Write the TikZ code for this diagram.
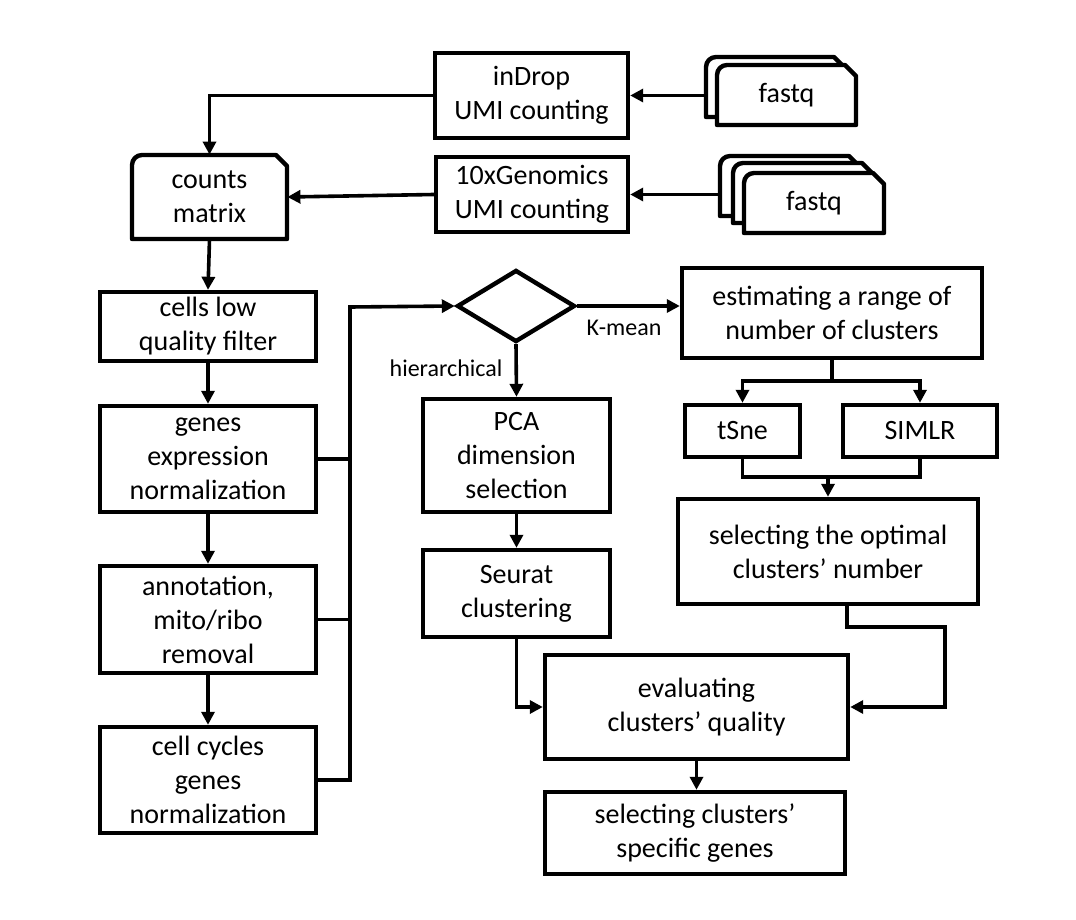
\documentclass[tikz,border=0pt]{standalone}
\usepackage{fontspec}
\setmainfont{Carlito}
\usetikzlibrary{arrows.meta,shapes.geometric,calc}

\newcommand{\boxfont}{\fontsize{14}{17}\selectfont}
\newcommand{\labfont}{\fontsize{12}{14}\selectfont}
% page outline: centre, half width, half height (px)
\newcommand{\docpage}[3]{%
  \filldraw[pageline] ($(#1)+(-#2,#3)$) -- ($(#1)+(-#2,-#3+10)$)
    arc[start angle=180,end angle=270,radius=10]
    -- ($(#1)+(#2-11,-#3)$) -- ($(#1)+(#2,-#3+11)$) -- ($(#1)+(#2,#3)$) -- cycle;}

\begin{document}
\begin{tikzpicture}[x=0.5pt,y=-0.5pt,
  every node/.style={font=\boxfont},
  procbox/.style={draw, line width=2.2pt, align=center, inner sep=0pt},
  conn/.style={line width=1.8pt},
  arr/.style={conn, -{Triangle[length=6.5pt,width=6.5pt]}},
  pageline/.style={draw, line width=2.2pt, fill=white, line join=round}]
\useasboundingbox (0,0) rectangle (1076,920);

% Input files (stacked pages)
\coordinate (fqApos) at (786.5,95);
\coordinate (fqBpos) at (814,203);
\docpage{$(fqApos)+(-11,-8)$}{69.5}{30}
\docpage{fqApos}{69.5}{30}
\docpage{$(fqBpos)+(-24,-17)$}{70}{30}
\docpage{$(fqBpos)+(-11,-10)$}{70}{30}
\docpage{fqBpos}{70}{30}
\node[minimum width=69.5pt, minimum height=30pt, inner sep=0] (fqAback) at ($(fqApos)+(-11,-8)$) {};
\node[minimum width=69.5pt, minimum height=30pt, inner sep=0] (fqA) at (fqApos) {fastq};
\node[minimum width=70pt, minimum height=30pt, inner sep=0] (fqBback) at ($(fqBpos)+(-24,-17)$) {};
\node[minimum width=70pt, minimum height=30pt, inner sep=0] (fqB) at (fqBpos) {fastq};

% UMI counting
\node[procbox, minimum width=96.5pt, minimum height=42.5pt] (indrop) at (531.5,95.5) {inDrop\\UMI counting};
\node[procbox, minimum width=96pt, minimum height=37.5pt] (tenx) at (532,194.5) {10xGenomics\\UMI counting};

% Counts matrix
\coordinate (cntpos) at (209.5,197);
\docpage{cntpos}{77.5}{42}
\node[minimum width=77.5pt, minimum height=42pt, inner sep=0, align=center] (counts) at (cntpos) {counts\\matrix};

% Preprocessing column
\foreach \name/\y/\h/\txt in {
  cells/326.5/34.5/{cells low\\quality filter},
  genes/459/53/{genes\\expression\\normalization},
  annot/619.5/53.5/{annotation,\\mito/ribo\\removal},
  cycles/780/53/{cell cycles\\genes\\normalization}%
} {
  \node[procbox, minimum width=108pt, minimum height=\h pt] (\name) at (208,\y) {\txt};
}

% Clustering choice
\node[draw, diamond, line width=2.2pt, minimum width=59pt, minimum height=36pt, inner sep=0] (choice) at (516,306) {};
\node[font=\labfont] (kmlab) at (624,328) {K-mean};
\node[font=\labfont] (hilab) at (446,368) {hierarchical};

% Hierarchical branch
\node[procbox, minimum width=93.5pt, minimum height=56.5pt] (pca) at (516.5,455.5) {PCA\\dimension\\selection};
\node[procbox, minimum width=93.5pt, minimum height=43.5pt] (seurat) at (516.5,593.5) {Seurat\\clustering};

% K-mean branch
\node[procbox, minimum width=150pt, minimum height=45pt] (estim) at (832,313) {estimating a range of\\number of clusters};
\node[procbox, minimum width=57.5pt, minimum height=26pt] (tsne) at (742.5,431) {tSne};
\node[procbox, minimum width=77pt, minimum height=26pt] (simlr) at (920,431) {SIMLR};
\node[procbox, minimum width=150pt, minimum height=52.5pt] (selopt) at (828,551.5) {selecting the optimal\\clusters’ number};

% Evaluation
\node[procbox, minimum width=151.5pt, minimum height=52pt] (evalq) at (696.5,707) {evaluating\\clusters’ quality};
\node[procbox, minimum width=150pt, minimum height=41pt] (spec) at (695,833) {selecting clusters’\\specific genes};

% Connectors
\coordinate (bustop) at (350,307);
\coordinate (split) at (832,381);
\coordinate (join) at (828,477);
\coordinate (bend) at (945,627);
\draw[arr] (indrop.east -| fqAback.west) -- (indrop.east);
\draw[arr] (tenx.east -| fqBback.west) -- (tenx.east);
\draw[arr] (indrop.west) -| (counts.north);
\draw[arr] (tenx.west) -- (counts.east);
\draw[arr] (counts.south) -- (cells.north);
\draw[arr] (cells.south) -- (genes.north);
\draw[arr] (genes.south) -- (annot.north);
\draw[arr] (annot.south) -- (cycles.north);
\draw[conn] (genes.east) -- (genes.east -| bustop);
\draw[conn] (annot.east) -- (annot.east -| bustop);
\draw[arr] (cycles.east) -| (bustop) -- (choice.west);
\draw[arr] (choice.east) -- (choice.east -| estim.west);
\draw[arr] (choice.south) -- (pca.north);
\draw[arr] (pca.south) -- (seurat.north);
\draw[conn] (estim.south) -- (split);
\draw[arr] (split) -| (tsne.north);
\draw[arr] (split) -| (simlr.north);
\draw[conn] (tsne.south) |- (join) -| (simlr.south);
\draw[arr] (join) -- (selopt.north);
\draw[arr] (seurat.south) |- (evalq.west);
\draw[arr] ([xshift=9.5pt]selopt.south) |- (bend) |- (evalq.east);
\draw[arr] (evalq.south) -- (evalq.south |- spec.north);
\end{tikzpicture}
\end{document}
